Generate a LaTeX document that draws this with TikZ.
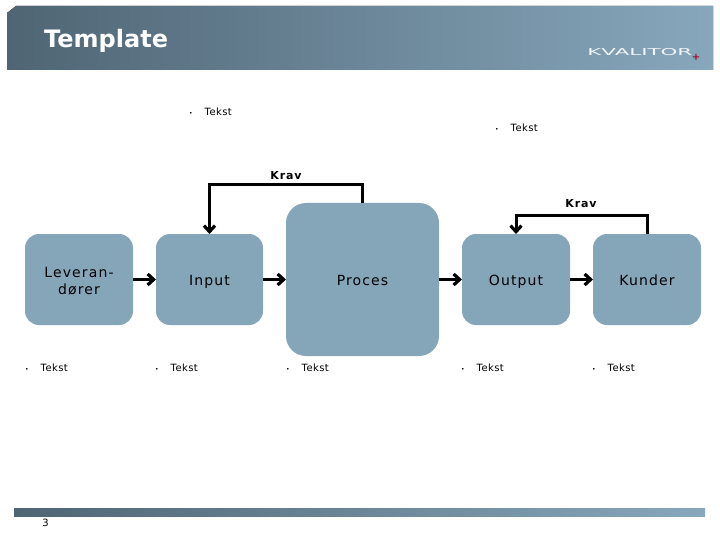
\documentclass[tikz,border=0pt]{standalone}
\usepackage{fontspec}
\setmainfont{DejaVu Sans}
\newfontfamily\spacedfont[LetterSpace=8]{DejaVu Sans}
\newfontfamily\tightfont[LetterSpace=4]{DejaVu Sans}
\usetikzlibrary{arrows.meta,calc}
\definecolor{boxc}{HTML}{85A5B9}
\definecolor{barl}{HTML}{4F6574}
\definecolor{barr}{HTML}{87A7BC}
\definecolor{plusc}{HTML}{A01030}
\newcommand{\bulletitem}{{\fontsize{6pt}{7pt}\selectfont •}\hspace{12pt}Tekst}
\tikzset{
  x=1pt,y=-1pt,
  flowbox/.style={fill=boxc,draw=none,rounded corners=14pt,minimum width=108pt,minimum height=91pt,inner sep=0pt,outer sep=0pt,align=center,text=black,font=\spacedfont\fontsize{14pt}{17pt}\selectfont},
  oneline/.style={text height=13pt,text depth=2pt},
  bigbox/.style={flowbox,rounded corners=20pt,minimum width=153pt,minimum height=153pt},
  flow/.style={line width=3pt,-{Straight Barb[length=6pt,width=11pt,line width=3.2pt]}},
  bulletnote/.style={anchor=west,inner sep=0pt,font=\tightfont\fontsize{10pt}{12pt}\selectfont},
  kravlabel/.style={inner sep=0pt,font=\spacedfont\bfseries\fontsize{11pt}{14pt}\selectfont},
}
\begin{document}
\begin{tikzpicture}
\useasboundingbox (0,0) rectangle (720,540);
\fill[left color=barl,right color=barr] (7,13) -- (16,6) -- (713,6) -- (713,70) -- (7,70) -- cycle;
\fill[left color=barl,right color=barr] (14,508) rectangle (705,516);
\node[anchor=west,inner sep=0pt,text=white,font=\bfseries\fontsize{24pt}{26pt}\selectfont] (title) at (44,40.5) {Template};
\node[anchor=west,inner sep=0pt,text=white!90!boxc,font=\fontsize{9.5pt}{11pt}\selectfont,xscale=2.25] (logo) at (587,52.5) {KVALITOR};
\node[inner sep=0pt,text=plusc,font=\bfseries\fontsize{10pt}{10pt}\selectfont] (plus) at (696,57) {+};

\node[flowbox] (lev) at (79,279.5) {\rule{0pt}{13pt}Leveran-\\dører};
\node[flowbox,oneline,minimum width=107pt] (inp) at (209.5,279.5) {Input};
\node[bigbox,oneline] (proc) at (362.5,279.5) {Proces};
\node[flowbox,oneline] (out) at (516,279.5) {Output};
\node[flowbox,oneline] (kun) at (647,279.5) {Kunder};

\draw[flow] (lev) -- (inp);
\draw[flow] (inp) -- (proc);
\draw[flow] (proc) -- (out);
\draw[flow] (out) -- (kun);
\draw[flow] (proc.north) -- ++(0,-18) -| (inp.north);
\draw[flow] (kun.north) -- ++(0,-18) -| (out.north);

\node[kravlabel] (k1) at (286,175.5) {Krav};
\node[kravlabel] (k2) at (581,203.5) {Krav};

\node[bulletnote] (t1) at (189,111.5) {\bulletitem};
\node[bulletnote] (t2) at (495,127.5) {\bulletitem};
\node[bulletnote] (t3) at (25,367.5) {\bulletitem};
\node[bulletnote] (t4) at (155,367.5) {\bulletitem};
\node[bulletnote] (t5) at (286,367.5) {\bulletitem};
\node[bulletnote] (t6) at (461,367.5) {\bulletitem};
\node[bulletnote] (t7) at (592,367.5) {\bulletitem};
\node[inner sep=0pt,font=\fontsize{10pt}{12pt}\selectfont] (pg) at (45.5,523) {3};
\end{tikzpicture}
\end{document}
